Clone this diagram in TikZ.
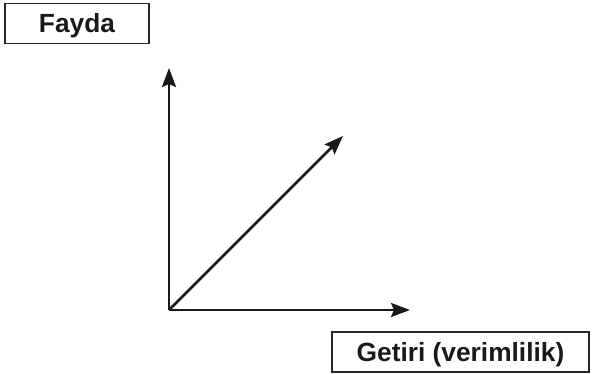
\documentclass[tikz,border=0pt]{standalone}
\usepackage{fontspec}
\setmainfont{Liberation Sans}
\usetikzlibrary{arrows.meta}
\begin{document}
\begin{tikzpicture}[x=1pt,y=-1pt,
  labelbox/.style={draw=black!85,line width=1.4pt,inner sep=0pt,text height=18.8pt,text depth=0pt,font=\fontsize{26.3}{31}\selectfont\bfseries,text=black!90},
  axis/.style={line width=2.6pt,draw=black!90,-{Stealth[length=19pt,width=14pt,inset=3pt]}}]
\useasboundingbox (0,0) rectangle (592,374);
\node[labelbox,minimum width=144pt,minimum height=40pt] (fayda) at (77,23.5) {Fayda};
\node[labelbox,minimum width=257pt,minimum height=40pt] (getiri) at (460.5,352) {Getiri (verimlilik)};
\coordinate (o) at (169,310);
\coordinate (ytip) at (169,68);
\coordinate (xtip) at (410,310);
\coordinate (dtip) at (343,136);
\draw[axis] (o) -- (ytip);
\draw[axis] (o) -- (xtip);
\draw[axis] (o) -- (dtip);
\end{tikzpicture}
\end{document}
